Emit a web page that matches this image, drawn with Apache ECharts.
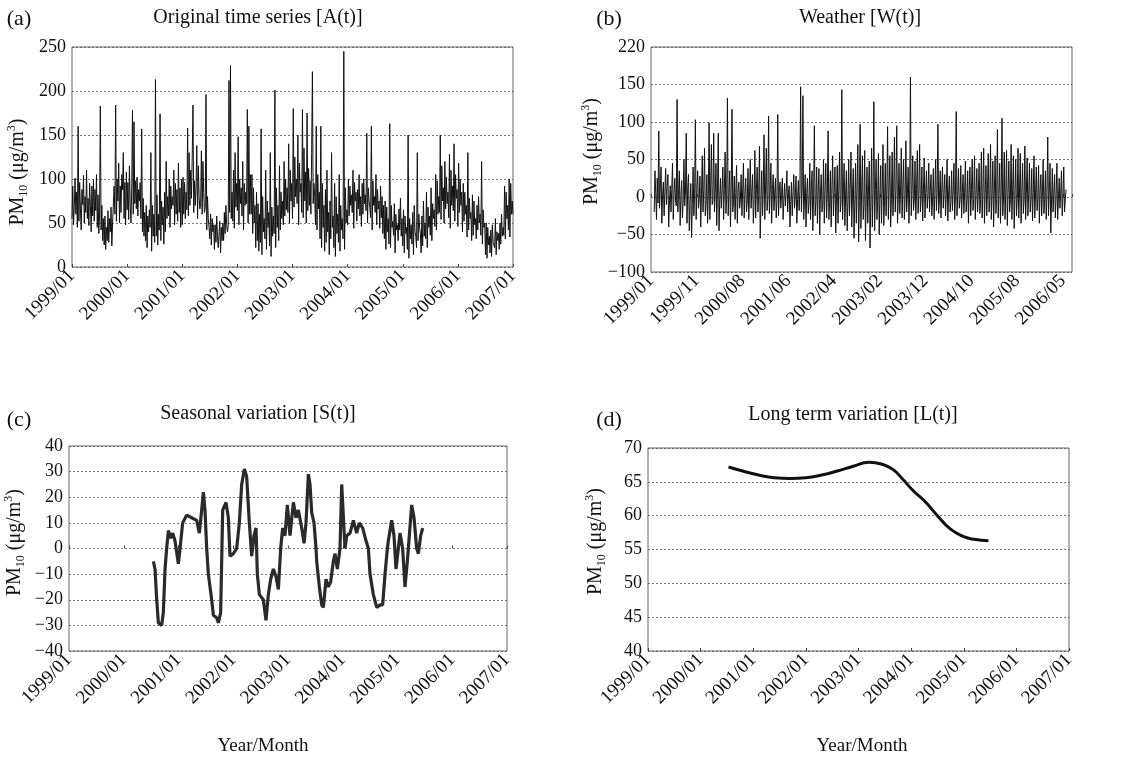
<!DOCTYPE html>
<html>
<head>
<meta charset="utf-8">
<script src="https://cdn.jsdelivr.net/npm/echarts@6/dist/echarts.min.js"></script>
<style>html,body{margin:0;padding:0;background:#fff}#c{width:1122px;height:761px}</style>
</head>
<body>
<div id="c"></div>
<script>
// ---------- DATA ----------
const yearLabels = ['1999/01','2000/01','2001/01','2002/01','2003/01','2004/01','2005/01','2006/01','2007/01'];
const weatherLabels = ['1999/01','1999/11','2000/08','2001/06','2002/04','2003/02','2003/12','2004/10','2005/08','2006/05'];

// (a) original series, years 0..8 from 1999/01, 6 samples per month
const aStart = 0, aEnd = 8;
const aValues = [
 55,92,48,70,101,60, 85,45,160,52,96,66, 42,88,71,104,50,80, 62,110,55,78,47,95, 70,40,92,58,99,52, 88,64,105,45,82,38,
 60,183,42,70,30,55, 25,58,20,45,30,64, 28,55,40,68,24,50, 48,92,60,184,52,100, 75,118,50,92,62,105, 88,130,55,96,48,108,
 65,96,54,115,70,50, 90,178,60,165,72,98, 66,102,58,88,75,96, 55,157,40,78,35,62, 30,70,22,58,40,65, 45,130,18,70,35,60,
 28,213,35,82,25,60, 42,174,30,75,48,68, 26,85,40,120,55,80, 58,100,45,92,66,80, 70,110,48,95,60,88, 52,118,62,90,45,100,
 48,102,60,96,55,85, 65,158,58,130,70,110, 78,125,184,62,98,70, 92,138,55,115,80,66, 72,132,60,120,85,62, 68,196,42,80,55,45,
 32,60,25,55,40,48, 20,48,28,58,35,22, 22,52,16,45,30,50, 30,62,38,70,48,40, 46,212,62,229,55,85, 52,110,44,130,68,95,
 64,148,48,100,72,90, 58,120,42,95,70,85, 72,179,50,160,60,105, 60,105,38,90,50,70, 22,85,30,72,18,60, 28,157,14,80,40,55,
 32,110,20,75,45,62, 24,130,12,68,35,58, 38,201,22,90,45,70, 30,115,42,85,55,75, 48,120,58,100,65,90, 62,140,50,110,75,95,
 55,180,68,125,80,100, 72,150,48,118,85,95, 62,179,56,135,75,108, 50,175,64,112,70,98, 60,130,222,72,95,80, 48,160,42,105,66,85,
 32,160,22,95,45,70, 18,88,28,110,40,62, 14,75,32,130,45,58, 22,95,12,80,38,60, 28,105,18,70,42,55, 32,245,20,90,50,65,
 48,100,58,92,70,82, 62,110,44,96,75,85, 52,88,66,105,58,80, 46,95,60,100,72,82, 64,152,50,90,75,68, 56,160,42,98,70,80,
 62,105,48,88,66,75, 44,92,56,80,38,70, 32,75,20,68,40,55, 26,163,22,70,45,52, 36,72,16,60,42,48, 30,66,42,78,35,55,
 24,65,16,58,38,45, 20,150,10,55,32,48, 26,62,14,70,40,35, 22,130,30,60,45,38, 16,58,24,75,35,50, 32,85,22,68,45,58,
 36,90,30,72,55,65, 46,105,42,98,60,80, 62,150,54,115,75,90, 50,120,66,102,72,85, 56,128,44,110,70,92, 64,140,52,105,78,88,
 46,118,62,100,70,85, 40,95,52,85,60,70, 34,130,42,78,55,62, 30,82,36,75,48,55, 32,70,42,80,50,60, 36,120,26,65,45,50,
 14,50,10,45,25,35, 16,42,12,48,28,30, 22,55,14,40,30,38, 20,50,26,60,35,45, 36,92,32,85,55,70, 42,100,34,95,60,75, 60
];

// (b) weather component, positions in tick units of the (b) axis
const bStart = 0.07, bEnd = 9.07;
const bValues = [
 -20,35,5,-30,25,-8, 88,-15,12,40,-35,3, 20,-25,8,38,-10,15, 30,-40,-5,15,-20,10, 45,-30,6,25,-5,-12,
 130,-20,10,35,-38,2, 22,-28,-4,50,-12,8, 85,-35,14,30,-45,-6, 18,-54,-10,40,-25,5, 103,-30,12,35,-15,-3,
 28,-40,5,55,-20,10, 65,-25,-8,30,-35,4, 99,-30,15,70,-10,-5, 85,-20,6,45,-38,12, 85,-45,-2,25,-15,8,
 40,-30,10,60,-22,-4, 132,-25,5,35,-40,12, 117,-20,-6,28,-30,6, 42,-35,8,20,-15,-3, 30,-25,10,45,-28,4,
 25,-20,-5,38,-30,7, 50,-15,8,30,-35,-2, 62,-28,10,40,-20,3, 68,-55,-8,35,-25,9, 83,-30,12,65,-18,-4,
 108,-22,6,45,-35,10, 30,-18,4,25,-28,-2, 110,-25,8,20,-15,3, 25,-30,-4,18,-12,6, 35,-20,5,15,-40,-6,
 20,-25,4,30,-15,2, 28,-35,-3,22,-18,7, 147,-20,10,135,-30,-5, 30,-40,6,25,-22,-8, 45,-30,12,35,-45,3,
 95,-25,-6,40,-35,8, 38,-50,4,30,-20,-10, 50,-35,10,45,-28,5, 88,-30,-8,35,-40,12, 55,-25,6,40,-48,-4,
 42,-35,12,60,-20,-6, 143,-30,8,45,-38,4, 35,-45,-6,50,-25,10, 60,-40,5,38,-55,-8, 45,-35,12,70,-60,-5,
 97,-42,8,55,-30,-10, 62,-58,-4,40,-35,12, 48,-68,-8,65,-40,6, 127,-45,10,50,-30,-6, 58,-50,4,42,-35,10,
 70,-38,-5,45,-25,8, 94,-30,12,55,-40,-3, 60,-25,6,80,-20,10, 95,-35,-4,45,-22,8, 65,-28,12,50,-30,-2,
 75,-20,5,40,-35,10, 160,-25,8,55,-18,-4, 48,-30,10,62,-22,5, 70,-20,-3,40,-32,8, 52,-28,6,35,-15,2,
 45,-20,8,30,-25,-4, 38,-30,5,50,-18,6, 97,-22,-2,35,-28,8, 40,-15,6,30,-25,3, 50,-32,4,28,-20,-5,
 35,-18,8,45,-30,2, 114,-25,5,38,-15,-3, 42,-28,6,30,-22,4, 48,-20,-4,35,-35,8, 40,-25,10,50,-18,-2,
 55,-30,5,38,-20,6, 45,-22,-3,60,-28,8, 65,-35,6,42,-25,10, 58,-20,-5,70,-30,4, 48,-40,8,55,-22,-2,
 90,-28,5,45,-35,10, 105,-25,-4,60,-30,8, 62,-38,6,48,-20,-3, 70,-30,10,55,-42,4, 50,-25,-2,65,-28,8,
 58,-35,6,45,-22,-4, 68,-30,8,52,-25,3, 45,-20,-4,38,-32,6, 55,-28,5,40,-18,-2, 42,-35,8,30,-25,4,
 50,-22,-3,35,-30,6, 80,-25,5,45,-48,-4, 38,-20,6,30,-28,2, 45,-30,-2,25,-15,5, 35,-25,4,40,-20,-3, 10
];

// (c) seasonal variation: time (years since 1999/01) and value
const sTime = [1.541,1.571,1.602,1.632,1.693,1.723,1.754,1.784,1.815,1.857,1.894,1.936,1.997,2.028,2.076,2.149,2.241,2.332,2.381,2.423,2.454,2.484,2.515,2.545,2.606,2.637,2.697,2.728,2.770,2.807,2.868,2.910,2.941,3.002,3.063,3.111,3.154,3.203,3.245,3.294,3.337,3.379,3.416,3.440,3.477,3.550,3.598,3.641,3.684,3.732,3.781,3.824,3.866,3.903,3.945,3.988,4.037,4.098,4.146,4.189,4.250,4.293,4.329,4.372,4.402,4.433,4.475,4.512,4.524,4.573,4.615,4.646,4.694,4.737,4.779,4.828,4.859,4.901,4.950,4.981,5.041,5.072,5.133,5.194,5.254,5.303,5.364,5.425,5.468,5.498,5.559,5.620,5.681,5.729,5.772,5.815,5.833,5.894,5.936,5.973,6.015,6.046,6.094,6.137,6.180,6.216,6.259,6.302,6.350,6.381,6.423,6.460];
const sValue = [-5,-8,-20,-29,-30,-25,-8,0,7,4,6,3,-6,0,10,13,12,11,6,15,22,15,0,-10,-20,-26,-27,-29,-25,15,18,12,-3,-2,0,10,25,31,28,10,-3,5,8,-10,-18,-20,-28,-18,-12,-8,-11,-16,0,8,5,17,5,18,12,15,8,2,10,29,25,14,10,0,-5,-15,-22,-23,-12,-15,-13,-5,-2,-8,0,25,0,5,6,11,6,10,8,3,0,-10,-18,-23,-22,-22,-10,0,3,11,5,-8,0,6,0,-15,-5,5,17,12,0,-2,5,8];

// (d) long term variation
const lTime  = [1.53,1.8,2.1,2.4,2.7,3.0,3.3,3.6,3.9,4.2,4.45,4.66,4.85,5.05,5.25,5.5,5.75,6.0,6.2,6.47];
const lValue = [67.2,66.6,66.0,65.6,65.5,65.6,66.0,66.6,67.3,67.9,67.6,66.8,65.3,63.6,62.2,60.0,58.0,56.9,56.5,56.3];

// ---------- CHART ----------
const FF = '"Liberation Serif", "DejaVu Serif", serif';
const TXT = '#111';
const chart = echarts.init(document.getElementById('c'), null, {renderer: 'canvas'});

const grids = [
  {left: 72,  top: 47,  width: 441, height: 220},
  {left: 651, top: 47,  width: 421, height: 225},
  {left: 69,  top: 446, width: 438, height: 205},
  {left: 648, top: 448, width: 421, height: 203}
].map(g => Object.assign({show: true, borderColor: '#666', borderWidth: 1, backgroundColor: 'transparent'}, g));

const nameRich = {
  a: {fontFamily: FF, fontSize: 20, color: TXT, lineHeight: 24},
  b: {fontFamily: FF, fontSize: 12, color: TXT, verticalAlign: 'bottom'},
  c: {fontFamily: FF, fontSize: 12, color: TXT, verticalAlign: 'top'}
};
const pmName = '{a|PM}{b|10}{a| (μg/m}{c|3}{a|)}';
const minus = v => (v < 0 ? '\u2212' + Math.abs(v) : String(v));

function xAxisFor(i, max, labels) {
  return {
    type: 'value', gridIndex: i, min: 0, max: max, interval: 1,
    axisLine: {show: false},
    axisTick: {show: true, inside: true, length: 3, lineStyle: {color: '#444'}},
    splitLine: {show: false},
    axisLabel: {
      rotate: 45, margin: 6, fontFamily: FF, fontSize: 19, color: TXT,
      formatter: v => (Number.isInteger(v) && labels[v] !== undefined ? labels[v] : '')
    }
  };
}
function yAxisFor(i, min, max, interval, fmt, gap, pad) {
  return {
    type: 'value', gridIndex: i, min: min, max: max, interval: interval,
    name: pmName, nameLocation: 'middle', nameGap: gap,
    nameTextStyle: {rich: nameRich, padding: pad},
    axisLine: {show: false},
    axisTick: {show: false},
    splitLine: {show: true, lineStyle: {color: '#555', width: 0.8, type: [2, 2]}},
    axisLabel: {margin: 6, fontFamily: FF, fontSize: 18, color: TXT, formatter: fmt || minus}
  };
}

const aData = aValues.map((v, i) => [aStart + i * (aEnd - aStart) / (aValues.length - 1), v]);
const bData = bValues.map((v, i) => [bStart + i * (bEnd - bStart) / (bValues.length - 1), v]);
const sData = sTime.map((t, i) => [t, sValue[i]]);
const lData = lTime.map((t, i) => [t, lValue[i]]);

const txt = (text, x, y, size) => ({
  type: 'text', x: x, y: y, silent: true,
  style: {text: text, fill: TXT, font: size + 'px ' + FF, align: 'center', textAlign: 'center',
          verticalAlign: 'middle', textVerticalAlign: 'middle'}
});

chart.setOption({
  animation: false,
  backgroundColor: '#fff',
  grid: grids,
  xAxis: [xAxisFor(0, 8, yearLabels), xAxisFor(1, 9.2, weatherLabels), xAxisFor(2, 8, yearLabels), xAxisFor(3, 8, yearLabels)],
  yAxis: [
    yAxisFor(0, 0, 250, 50, null, 42, [0, 30, 0, 0]),
    yAxisFor(1, -100, 200, 50, v => (v === 200 ? '220' : minus(v)), 42, [0, 0, 0, 16]),
    yAxisFor(2, -40, 40, 10, null, 42, [0, 0, 0, 12]),
    yAxisFor(3, 40, 70, 5, null, 40, [0, 0, 0, 16])
  ],
  series: [
    {type: 'line', xAxisIndex: 0, yAxisIndex: 0, data: aData, showSymbol: false, sampling: null,
     lineStyle: {width: 1, color: '#111'}},
    {type: 'line', xAxisIndex: 1, yAxisIndex: 1, data: bData, showSymbol: false,
     lineStyle: {width: 1, color: '#111'}},
    {type: 'line', xAxisIndex: 2, yAxisIndex: 2, data: sData, showSymbol: false,
     lineStyle: {width: 3.2, color: '#2a2a2a'}},
    {type: 'line', xAxisIndex: 3, yAxisIndex: 3, data: lData, showSymbol: false, smooth: true,
     lineStyle: {width: 3, color: '#111'}}
  ],
  graphic: [
    txt('(a)', 19, 19, 22), txt('Original time series [A(t)]', 258, 18, 20),
    txt('(b)', 609, 19, 22), txt('Weather [W(t)]', 860, 18, 20),
    txt('(c)', 19, 420, 22), txt('Seasonal variation [S(t)]', 258, 414, 20),
    txt('(d)', 609, 420, 22), txt('Long term variation [L(t)]', 853, 415, 20),
    txt('Year/Month', 263, 746, 19), txt('Year/Month', 862, 746, 19)
  ]
});
</script>
</body>
</html>
